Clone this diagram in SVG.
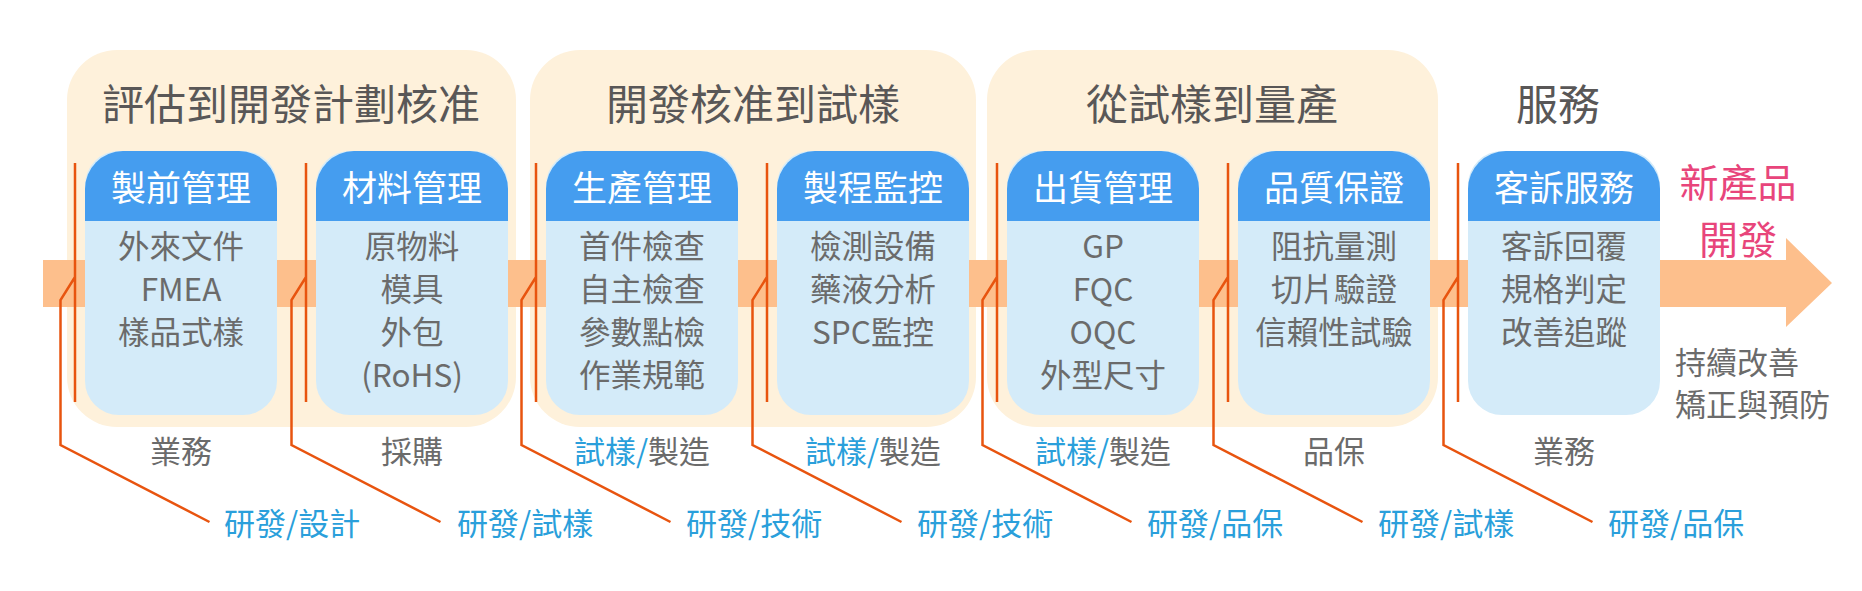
<svg xmlns="http://www.w3.org/2000/svg" width="1862" height="591" viewBox="0 0 1862 591">
<style>
text{font-family:"Noto Sans CJK TC","Noto Sans CJK SC",sans-serif;}
.phase{fill:#FEF1DB;}
.ttl{font-size:42px;fill:#595757;text-anchor:middle;}
.body{fill:#D4EBF9;}
.hdr{fill:#459DEF;}
.ht{font-size:35px;fill:#FFFFFF;text-anchor:middle;}
.bt{font-size:31.5px;fill:#6B6B6B;text-anchor:middle;}
.ml{font-size:31px;fill:#6B6B6B;text-anchor:middle;}
.bl{fill:#2A9FDB;}
.lab{font-size:31px;fill:#2A9FDB;}
.cn{fill:none;stroke:#E8540F;stroke-width:2.5;}
.side{font-size:31px;fill:#6B6B6B;}
.pink{font-size:39px;fill:#E8457B;text-anchor:middle;}
</style>

<g id="phase1"><rect class="phase" x="67" y="50" width="449" height="377" rx="50"/><text class="ttl" x="291" y="120">評估到開發計劃核准</text></g>
<g id="phase2"><rect class="phase" x="530" y="50" width="446" height="377" rx="50"/><text class="ttl" x="753" y="120">開發核准到試樣</text></g>
<g id="phase3"><rect class="phase" x="987" y="50" width="451" height="377" rx="50"/><text class="ttl" x="1212" y="120">從試樣到量產</text></g>
<g id="phase4"><text class="ttl" x="1558" y="120">服務</text></g>

<g id="flow-arrow"><path d="M43,260 H1786 V238 L1832,283 L1786,327 V307 H43 Z" fill="#FDBF8C"/></g>

<g id="box1">
<rect class="body" x="85" y="151" width="192" height="264" rx="34"/>
<path class="hdr" d="M85,221 V189 A38,38 0 0 1 123,151 H239 A38,38 0 0 1 277,189 V221 Z"/>
<text class="ht" x="181" y="201">製前管理</text>
<text class="bt" x="181" y="258">外來文件</text><text class="bt" x="181" y="301">FMEA</text><text class="bt" x="181" y="344">樣品式樣</text>
</g>
<g id="box2">
<rect class="body" x="316" y="151" width="192" height="264" rx="34"/>
<path class="hdr" d="M316,221 V189 A38,38 0 0 1 354,151 H470 A38,38 0 0 1 508,189 V221 Z"/>
<text class="ht" x="412" y="201">材料管理</text>
<text class="bt" x="412" y="258">原物料</text><text class="bt" x="412" y="301">模具</text><text class="bt" x="412" y="344">外包</text><text class="bt" x="412" y="387">(RoHS)</text>
</g>
<g id="box3">
<rect class="body" x="546" y="151" width="192" height="264" rx="34"/>
<path class="hdr" d="M546,221 V189 A38,38 0 0 1 584,151 H700 A38,38 0 0 1 738,189 V221 Z"/>
<text class="ht" x="642" y="201">生產管理</text>
<text class="bt" x="642" y="258">首件檢查</text><text class="bt" x="642" y="301">自主檢查</text><text class="bt" x="642" y="344">參數點檢</text><text class="bt" x="642" y="387">作業規範</text>
</g>
<g id="box4">
<rect class="body" x="777" y="151" width="192" height="264" rx="34"/>
<path class="hdr" d="M777,221 V189 A38,38 0 0 1 815,151 H931 A38,38 0 0 1 969,189 V221 Z"/>
<text class="ht" x="873" y="201">製程監控</text>
<text class="bt" x="873" y="258">檢測設備</text><text class="bt" x="873" y="301">藥液分析</text><text class="bt" x="873" y="344">SPC監控</text>
</g>
<g id="box5">
<rect class="body" x="1007" y="151" width="192" height="264" rx="34"/>
<path class="hdr" d="M1007,221 V189 A38,38 0 0 1 1045,151 H1161 A38,38 0 0 1 1199,189 V221 Z"/>
<text class="ht" x="1103" y="201">出貨管理</text>
<text class="bt" x="1103" y="258">GP</text><text class="bt" x="1103" y="301">FQC</text><text class="bt" x="1103" y="344">OQC</text><text class="bt" x="1103" y="387">外型尺寸</text>
</g>
<g id="box6">
<rect class="body" x="1238" y="151" width="192" height="264" rx="34"/>
<path class="hdr" d="M1238,221 V189 A38,38 0 0 1 1276,151 H1392 A38,38 0 0 1 1430,189 V221 Z"/>
<text class="ht" x="1334" y="201">品質保證</text>
<text class="bt" x="1334" y="258">阻抗量測</text><text class="bt" x="1334" y="301">切片驗證</text><text class="bt" x="1334" y="344">信賴性試驗</text>
</g>
<g id="box7">
<rect class="body" x="1468" y="151" width="192" height="264" rx="34"/>
<path class="hdr" d="M1468,221 V189 A38,38 0 0 1 1506,151 H1622 A38,38 0 0 1 1660,189 V221 Z"/>
<text class="ht" x="1564" y="201">客訴服務</text>
<text class="bt" x="1564" y="258">客訴回覆</text><text class="bt" x="1564" y="301">規格判定</text><text class="bt" x="1564" y="344">改善追蹤</text>
</g>

<g id="connectors">
<path class="cn" d="M75,163 V402 M75,277 L60.5,300 V445 L209.5,522"/>
<path class="cn" d="M306,163 V402 M306,277 L291.5,300 V445 L440.5,522"/>
<path class="cn" d="M536,163 V402 M536,277 L521.5,300 V445 L670.5,522"/>
<path class="cn" d="M767,163 V402 M767,277 L752.5,300 V445 L901.5,522"/>
<path class="cn" d="M997,163 V402 M997,277 L982.5,300 V445 L1131.5,522"/>
<path class="cn" d="M1228,163 V402 M1228,277 L1213.5,300 V445 L1362.5,522"/>
<path class="cn" d="M1458,163 V402 M1458,277 L1443.5,300 V445 L1592.5,522"/>
</g>

<g id="roles">
<text class="ml" x="181" y="463">業務</text>
<text class="ml" x="412" y="463">採購</text>
<text class="ml" x="642" y="463"><tspan class="bl">試樣/</tspan>製造</text>
<text class="ml" x="873" y="463"><tspan class="bl">試樣/</tspan>製造</text>
<text class="ml" x="1103" y="463"><tspan class="bl">試樣/</tspan>製造</text>
<text class="ml" x="1334" y="463">品保</text>
<text class="ml" x="1564" y="463">業務</text>
</g>

<g id="rd-labels">
<text class="lab" x="224" y="535">研發/設計</text>
<text class="lab" x="457" y="535">研發/試樣</text>
<text class="lab" x="686" y="535">研發/技術</text>
<text class="lab" x="917" y="535">研發/技術</text>
<text class="lab" x="1147" y="535">研發/品保</text>
<text class="lab" x="1378" y="535">研發/試樣</text>
<text class="lab" x="1608" y="535">研發/品保</text>
</g>

<g id="outcome">
<text class="pink" x="1738" y="197">新產品</text>
<text class="pink" x="1738" y="254">開發</text>
<text class="side" x="1675" y="374">持續改善</text>
<text class="side" x="1675" y="416">矯正與預防</text>
</g>
</svg>
